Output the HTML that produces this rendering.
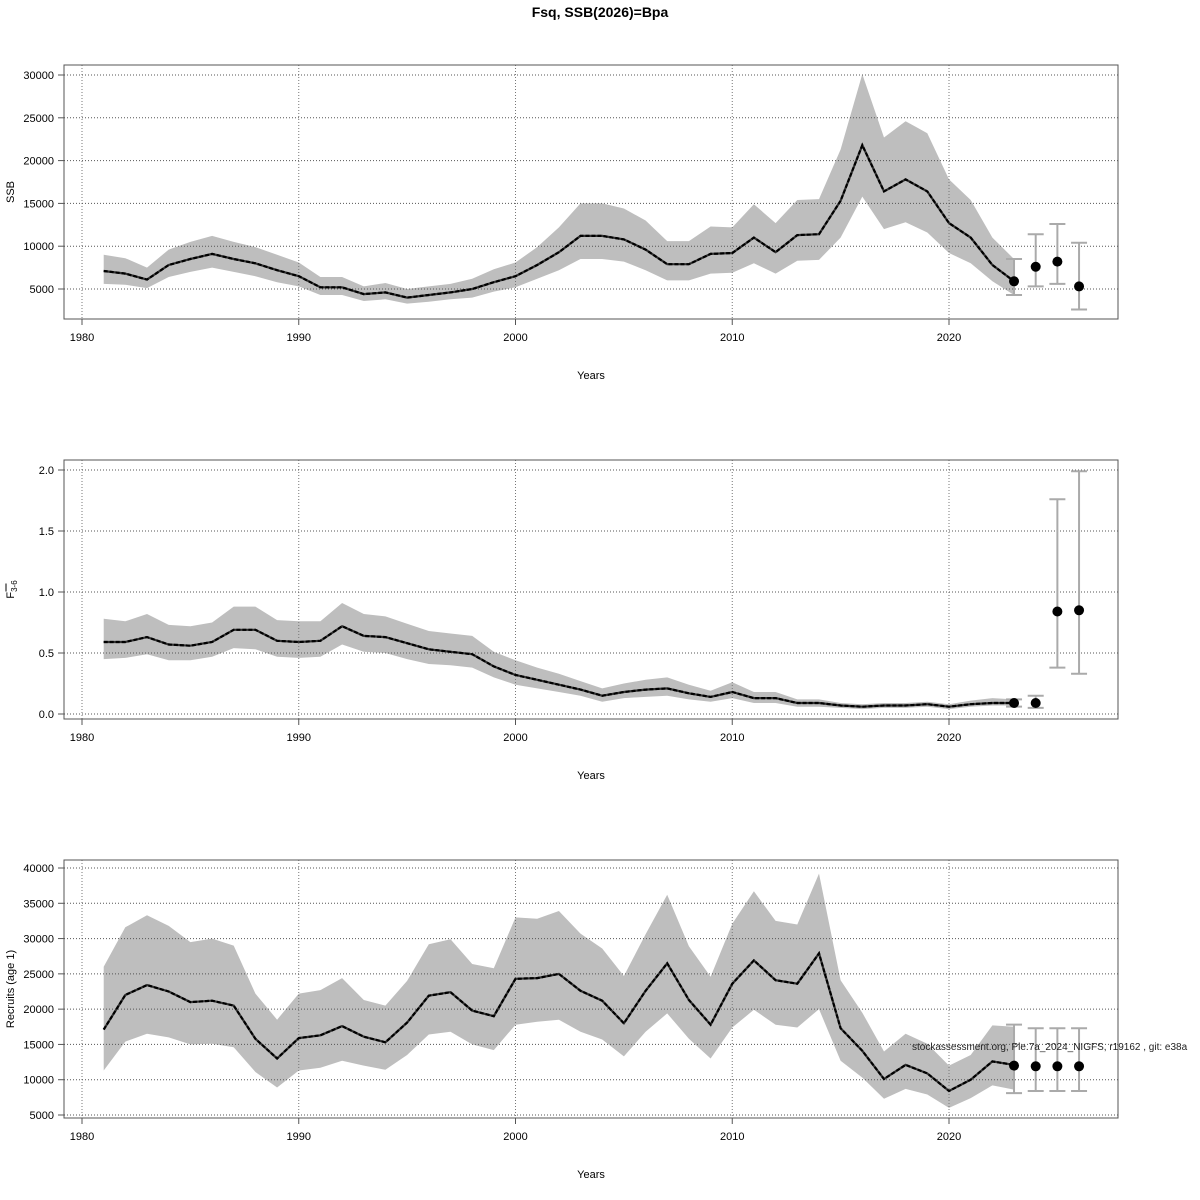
<!DOCTYPE html>
<html><head><meta charset="utf-8"><style>
body{margin:0;background:#fff;}
svg{display:block;font-family:"Liberation Sans",sans-serif;}
</style></head><body>
<svg id="c" width="1200" height="1200" viewBox="0 0 1200 1200">
<text x="600" y="17" text-anchor="middle" font-size="14" font-weight="bold">Fsq, SSB(2026)=Bpa</text>
</svg>
<script>
const years=[1981,1982,1983,1984,1985,1986,1987,1988,1989,1990,1991,1992,1993,1994,1995,1996,1997,1998,1999,2000,2001,2002,2003,2004,2005,2006,2007,2008,2009,2010,2011,2012,2013,2014,2015,2016,2017,2018,2019,2020,2021,2022,2023];
const ssb=[7100,6800,6100,7800,8500,9100,8500,8000,7200,6500,5200,5200,4400,4600,4000,4300,4600,5000,5800,6500,7800,9300,11200,11200,10800,9600,7900,7900,9100,9200,11000,9300,11300,11400,15300,21800,16400,17800,16400,12700,11000,7800,5900];
const ssbHi=[9000,8600,7500,9600,10500,11200,10500,9900,9000,8100,6400,6400,5300,5700,5000,5300,5600,6200,7300,8100,9900,12200,15000,15000,14400,13000,10600,10600,12300,12200,14900,12700,15400,15500,21300,30100,22700,24600,23200,17800,15400,11000,8500];
const ssbLo=[5600,5500,5100,6400,7000,7500,7000,6500,5800,5300,4300,4300,3600,3800,3300,3500,3800,4000,4700,5200,6200,7200,8500,8500,8200,7200,6000,6000,6800,6900,8000,6800,8300,8400,11000,15800,12000,12800,11600,9200,8000,5900,4300];
const fbar=[0.59,0.59,0.63,0.57,0.56,0.59,0.69,0.69,0.60,0.59,0.60,0.72,0.64,0.63,0.58,0.53,0.51,0.49,0.39,0.32,0.28,0.24,0.20,0.15,0.18,0.20,0.21,0.17,0.14,0.18,0.13,0.13,0.09,0.09,0.07,0.06,0.07,0.07,0.08,0.06,0.08,0.09,0.09];
const fbarHi=[0.78,0.76,0.82,0.73,0.72,0.75,0.88,0.88,0.77,0.76,0.76,0.91,0.82,0.80,0.74,0.68,0.66,0.64,0.51,0.44,0.38,0.33,0.27,0.21,0.25,0.28,0.30,0.24,0.19,0.26,0.18,0.18,0.12,0.12,0.09,0.08,0.09,0.09,0.10,0.08,0.11,0.13,0.12];
const fbarLo=[0.45,0.46,0.49,0.44,0.44,0.47,0.54,0.53,0.47,0.46,0.47,0.57,0.51,0.50,0.45,0.41,0.40,0.38,0.30,0.24,0.21,0.18,0.15,0.10,0.13,0.14,0.15,0.12,0.10,0.13,0.09,0.09,0.06,0.06,0.05,0.04,0.05,0.05,0.06,0.04,0.06,0.07,0.07];
const rec=[17100,22000,23400,22500,21000,21200,20500,15800,13000,15900,16300,17600,16100,15300,18100,21900,22400,19800,19000,24300,24400,25000,22600,21200,18000,22600,26500,21300,17800,23600,26900,24100,23600,27900,17300,14100,10100,12100,10900,8400,10000,12600,12100];
const recHi=[26000,31600,33300,31800,29500,30000,29000,22200,18500,22200,22700,24400,21300,20500,24000,29200,29900,26400,25800,33000,32800,33900,30700,28600,24700,30600,36200,28900,24600,32100,36700,32500,32000,39200,24100,19500,14000,16500,15100,12000,13500,17700,17500];
const recLo=[11300,15400,16500,16000,15000,15100,14600,11100,8900,11300,11700,12700,12000,11400,13500,16400,16800,15000,14200,17800,18200,18500,16800,15700,13300,16800,19400,15800,13000,17400,19900,17800,17400,20000,12700,10300,7300,8700,7900,6000,7400,9200,8600];
const fcYears=[2023,2024,2025,2026];
const fcSsb=[5900,7600,8200,5300], fcSsbLo=[4300,5300,5600,2600], fcSsbHi=[8500,11400,12600,10400];
const fcF=[0.09,0.09,0.84,0.85], fcFLo=[0.06,0.05,0.38,0.33], fcFHi=[0.12,0.15,1.76,1.99];
const fcRec=[12000,11900,11900,11900], fcRecLo=[8100,8400,8400,8400], fcRecHi=[17800,17300,17300,17300];
const xTicks=[1980,1990,2000,2010,2020];
const ssbTicks=[5000,10000,15000,20000,25000,30000];
const fTicks=[0.0,0.5,1.0,1.5,2.0];
const recTicks=[5000,10000,15000,20000,25000,30000,35000,40000];

const svg=document.getElementById('c');
const NS='http://www.w3.org/2000/svg';
function mk(tag,attrs,parent){const e=document.createElementNS(NS,tag);for(const k in attrs)e.setAttribute(k,attrs[k]);(parent||svg).appendChild(e);return e;}
const X=y=>82+(y-1980)*21.675;

const panels=[
 {name:'ssb',top:65,bot:319,Y:v=>289-(v-5000)*214/25000,m:ssb,hi:ssbHi,lo:ssbLo,fy:fcSsb,fl:fcSsbLo,fh:fcSsbHi,ticks:ssbTicks,fmt:v=>String(v),title:'SSB'},
 {name:'fbar',top:460,bot:719,Y:v=>714-v*122,m:fbar,hi:fbarHi,lo:fbarLo,fy:fcF,fl:fcFLo,fh:fcFHi,ticks:fTicks,fmt:v=>v.toFixed(1),title:'F'},
 {name:'recruits',top:860,bot:1118,Y:v=>1115-(v-5000)*247/35000,m:rec,hi:recHi,lo:recLo,fy:fcRec,fl:fcRecLo,fh:fcRecHi,ticks:recTicks,fmt:v=>String(v),title:'Recruits (age 1)'}
];
panels.forEach(p=>{
 const g=mk('g',{});
 
 
 let d='M'+years.map((y,i)=>X(y).toFixed(1)+','+p.Y(p.hi[i]).toFixed(1)).join('L');
 for(let i=years.length-1;i>=0;i--)d+='L'+X(years[i]).toFixed(1)+','+p.Y(p.lo[i]).toFixed(1);
 const band=mk('path',{d:d+'Z',fill:'#bebebe'},g);
 
 
 xTicks.forEach(t=>{mk('line',{x1:X(t),x2:X(t),y1:p.top,y2:p.bot,stroke:'#777','stroke-dasharray':'1,2','stroke-width':1},g);});
 p.ticks.forEach(t=>{mk('line',{x1:64,x2:1118,y1:p.Y(t),y2:p.Y(t),stroke:'#555','stroke-dasharray':'1,2','stroke-width':1},g);});
 const pts=years.map((y,i)=>X(y).toFixed(1)+','+p.Y(p.m[i]).toFixed(1)).join(' ');
 mk('polyline',{points:pts,fill:'none',stroke:'#333','stroke-width':2.2},g);
 const ln=mk('polyline',{points:pts,fill:'none',stroke:'#000','stroke-width':2.2,'stroke-dasharray':'4,2'},g);
 
 
 fcYears.forEach((y,i)=>{
  const x=X(y);
  mk('line',{x1:x,x2:x,y1:p.Y(p.fl[i]),y2:p.Y(p.fh[i]),stroke:'#aaa','stroke-width':2},g);
  mk('line',{x1:x-8,x2:x+8,y1:p.Y(p.fl[i]),y2:p.Y(p.fl[i]),stroke:'#aaa','stroke-width':2},g);
  mk('line',{x1:x-8,x2:x+8,y1:p.Y(p.fh[i]),y2:p.Y(p.fh[i]),stroke:'#aaa','stroke-width':2},g);
  const c=mk('circle',{cx:x,cy:p.Y(p.fy[i]),r:5,fill:'#000'},g);
  
  
 });
 mk('rect',{x:64,y:p.top,width:1054,height:p.bot-p.top,fill:'none',stroke:'#555','stroke-width':1},g);
 xTicks.forEach(t=>{
  mk('line',{x1:X(t),x2:X(t),y1:p.bot,y2:p.bot+6,stroke:'#555'},g);
  const tx=mk('text',{x:X(t),y:p.bot+22,'text-anchor':'middle','font-size':11},g);tx.textContent=t;
 });
 p.ticks.forEach(t=>{
  mk('line',{x1:58,x2:64,y1:p.Y(t),y2:p.Y(t),stroke:'#555'},g);
  const tx=mk('text',{x:54,y:p.Y(t)+4,'text-anchor':'end','font-size':11},g);tx.textContent=p.fmt(t);
 });
 const xl=mk('text',{x:591,y:p.bot+60,'text-anchor':'middle','font-size':11},g);xl.textContent='Years';
 
 
 const cy=(p.top+p.bot)/2;
 const yl=mk('text',{x:14,y:cy,'text-anchor':'middle','font-size':11,transform:'rotate(-90 14 '+cy+')'},g);
 
 
 if(p.name==='fbar'){
  yl.innerHTML='F<tspan font-size="8" dy="3">3-6</tspan>';
  mk('line',{x1:6,x2:6,y1:cy+2,y2:cy-6,stroke:'#000','stroke-width':1},g);
 } else yl.textContent=p.title;
});
const fn=mk('text',{x:912,y:1050,'font-size':10,fill:'#222'});
fn.textContent='stockassessment.org, Ple.7a_2024_NIGFS, r19162 , git: e38a';


</script>
</body></html>
